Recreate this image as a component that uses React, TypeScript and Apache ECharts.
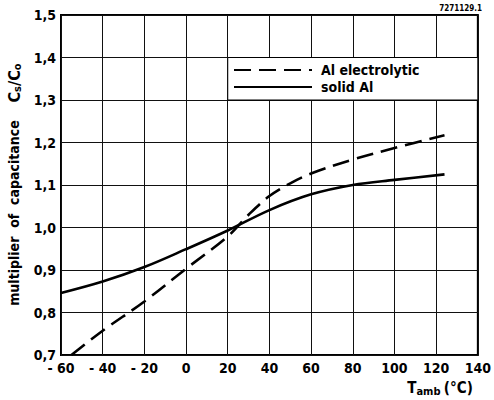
import React, { useEffect, useRef } from "react";
import * as echarts from "echarts";

const xTicks = { min: -60, max: 140, interval: 20 };
const yTicks = { min: 0.7, max: 1.5, interval: 0.1 };

const electrolyticData: [number, number][] = [
  [-55, 0.7], [-40, 0.757], [-20, 0.826], [0, 0.903], [20, 0.979],
  [30, 1.03], [40, 1.074], [50, 1.104], [60, 1.127],
  [80, 1.16], [100, 1.187], [124, 1.217],
];

const solidData: [number, number][] = [
  [-60, 0.846], [-40, 0.873], [-20, 0.907],
  [0, 0.949], [20, 0.993], [40, 1.041],
  [60, 1.078], [80, 1.1], [100, 1.112], [124, 1.125],
];

const seriesNames = ["Al electrolytic", "solid Al"];
const legendBoxX = [20, 140];
const legendBoxY = [1.3, 1.4];

const FONT = "'DejaVu Sans Condensed', 'DejaVu Sans', sans-serif";

export default function App() {
  const ref = useRef<HTMLDivElement>(null);
  useEffect(() => {
    if (!ref.current) return;
    const chart = echarts.init(ref.current, undefined, { renderer: "svg" });
    chart.setOption({
      animation: false,
      backgroundColor: "#fff",
      grid: {
        left: 61, right: 12, top: 15, bottom: 45,
        show: true, borderColor: "#000", borderWidth: 2,
      },
      xAxis: {
        type: "value",
        min: xTicks.min, max: xTicks.max, interval: xTicks.interval,
        axisLine: { show: false },
        axisTick: { show: false },
        splitLine: { show: true, lineStyle: { color: "#111", width: 1 } },
        axisLabel: {
          color: "#000", fontFamily: FONT, fontSize: 14, fontWeight: "bold", margin: 6,
          formatter: (v: number) => (v < 0 ? "- " + Math.abs(v) : String(v)),
        },
      },
      yAxis: {
        type: "value",
        min: yTicks.min, max: yTicks.max, interval: yTicks.interval,
        axisLine: { show: false },
        axisTick: { show: false },
        splitLine: { show: true, lineStyle: { color: "#111", width: 1 } },
        axisLabel: {
          color: "#000", fontFamily: FONT, fontSize: 14, fontWeight: "bold", margin: 5,
          formatter: (v: number) => v.toFixed(1).replace(".", ","),
        },
      },
      legend: {
        orient: "vertical",
        left: 233, top: 63,
        itemWidth: 78, itemHeight: 12, itemGap: 3,
        padding: 0,
        z: 10,
        itemStyle: { opacity: 0 },
        textStyle: { color: "#000", fontFamily: FONT, fontSize: 14, fontWeight: "bold", padding: [0, 0, 0, 4] },
        data: seriesNames,
      },
      series: [
        {
          name: seriesNames[0],
          type: "line",
          data: electrolyticData,
          smooth: 0.35,
          showSymbol: false,
          symbol: "none",
          itemStyle: { color: "#000" },
          lineStyle: { color: "#000", width: 2.6, type: [17, 8] },
          z: 3,
        },
        {
          name: seriesNames[1],
          type: "line",
          data: solidData,
          smooth: 0.35,
          showSymbol: false,
          symbol: "none",
          itemStyle: { color: "#000" },
          lineStyle: { color: "#000", width: 2.6, type: "solid" },
          z: 3,
          markArea: {
            silent: true,
            z: 6,
            itemStyle: { color: "#ffffff", opacity: 1, borderColor: "#000", borderWidth: 1 },
            data: [[{ coord: [legendBoxX[0], legendBoxY[0]] }, { coord: [legendBoxX[1], legendBoxY[1]] }]],
          },
        },
      ],
      graphic: [
        {
          type: "text", right: 12, top: 4,
          style: { text: "7271129.1", fill: "#000", font: `bold 8px ${FONT}` },
        },
        {
          type: "text", x: 440, y: 388,
          style: {
            text: "{m|T}{s|amb} {m|(°C)}",
            align: "center", verticalAlign: "middle",
            rich: {
              m: { fontFamily: FONT, fontSize: 15, fontWeight: "bold", fill: "#000" },
              s: { fontFamily: FONT, fontSize: 11, fontWeight: "bold", fill: "#000", padding: [7, 0, 0, 0] },
            },
          },
        },
        {
          type: "text", x: 14, y: 213, rotation: Math.PI / 2,
          style: {
            text: "multiplier  of  capacitance",
            align: "center", verticalAlign: "middle",
            fill: "#000", font: `bold 14px ${FONT}`,
          },
        },
        {
          type: "text", x: 14, y: 83, rotation: Math.PI / 2,
          style: {
            text: "{m|C}{s|s}{m|/C}{s|o}",
            align: "center", verticalAlign: "middle",
            rich: {
              m: { fontFamily: FONT, fontSize: 16, fontWeight: "bold", fill: "#000" },
              s: { fontFamily: FONT, fontSize: 11, fontWeight: "bold", fill: "#000", padding: [7, 0, 0, 0] },
            },
          },
        },
      ],
    });
    return () => chart.dispose();
  }, []);
  return <div ref={ref} style={{ position: "absolute", left: 0, top: 0, width: 494, height: 400 }} />;
}
